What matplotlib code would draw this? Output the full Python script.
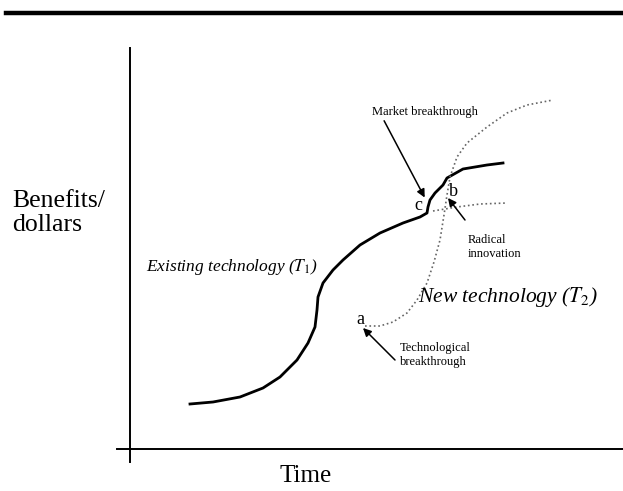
import matplotlib
matplotlib.use("Agg")
import matplotlib.pyplot as plt
from matplotlib.lines import Line2D

plt.rcParams['font.family'] = ['Liberation Serif', 'DejaVu Serif']
plt.rcParams['mathtext.fontset'] = 'stix'

# existing technology T1 (time, benefit)
t1_time = [60, 83, 110, 133, 150, 167, 178, 185, 187, 188, 193, 203, 213, 230, 250,
           273, 290, 297, 298, 300, 305, 313, 317, 333, 357, 373]
t1_benefit = [45, 47, 52, 61, 72, 89, 106, 122, 139, 152, 166, 179, 189, 204, 216,
              226, 232, 236, 242, 249, 256, 264, 271, 280, 284, 286]

# new technology T2
t2_time = [235, 250, 263, 277, 287, 297, 304, 310, 314, 317, 320, 327, 337, 357, 377, 397, 423]
t2_benefit = [123, 123, 127, 136, 149, 166, 187, 209, 234, 254, 272, 292, 306, 322, 336, 344, 349]

# radical innovation branch
rad_time = [303, 315, 327, 350, 377]
rad_benefit = [238, 240, 242, 245, 246]

fig = plt.figure(figsize=(6.23, 4.91), dpi=100)
ax = fig.add_axes([117 / 623, 29 / 491, 506 / 623, 414 / 491])
ax.set_xlim(-13, 493)
ax.set_ylim(-13, 401)
for s in ['top', 'right']:
    ax.spines[s].set_visible(False)
ax.spines['left'].set_position(('data', 0))
ax.spines['bottom'].set_position(('data', 0))
ax.spines['left'].set_linewidth(1.4)
ax.spines['bottom'].set_linewidth(1.4)
ax.set_xticks([])
ax.set_yticks([])

ax.plot(t1_time, t1_benefit, color='black', lw=2, solid_joinstyle='round')
ax.plot(t2_time, t2_benefit, color='#666666', lw=1.2, ls=':')
ax.plot(rad_time, rad_benefit, color='#666666', lw=1.2, ls=':')

ax.text(16, 182, 'Existing technology ($T_1$)', style='italic', fontsize=12.5, va='center')
ax.text(288, 152, 'New technology ($T_2$)', style='italic', fontsize=15.5, va='center')
ax.text(288, 244, 'c', fontsize=13, ha='center', va='center')
ax.text(323, 257, 'b', fontsize=13, ha='center', va='center')
ax.text(230, 129, 'a', fontsize=13, ha='center', va='center')

arw = dict(arrowstyle='-|>', color='black', lw=1.1, mutation_scale=12)
ax.annotate('Market breakthrough', xy=(296, 249), xytext=(295, 337), fontsize=9,
            ha='center', va='center', arrowprops=dict(arw, shrinkA=0, relpos=(0.1, 0.0)))
ax.annotate('', xy=(318, 251), xytext=(335, 229), arrowprops=dict(arw, shrinkA=0, shrinkB=0))
ax.text(338, 202, 'Radical\ninnovation', fontsize=9, va='center', linespacing=1.3)
ax.annotate('', xy=(233, 121), xytext=(265, 89), arrowprops=dict(arw, shrinkA=0, shrinkB=0))
ax.text(270, 94, 'Technological\nbreakthrough', fontsize=9, va='center', linespacing=1.3)

fig.text(12 / 623, 1 - 213 / 491, 'Benefits/\ndollars', fontsize=18.5, va='center', linespacing=1.15)
fig.text(306 / 623, 1 - 476 / 491, 'Time', fontsize=18, ha='center', va='center')
fig.add_artist(Line2D([0.01, 1], [1 - 13 / 491, 1 - 13 / 491], color='black', lw=3.2,
                      transform=fig.transFigure))

fig.savefig('out.png', dpi=100)
